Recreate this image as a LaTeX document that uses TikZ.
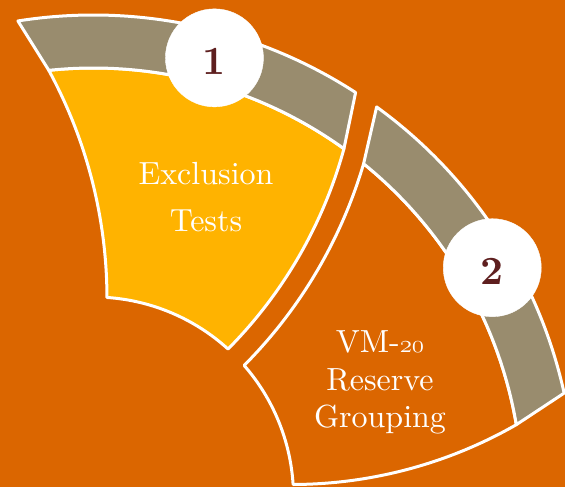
\documentclass[tikz,border=0pt]{standalone}
\usepackage{fontspec}
\usetikzlibrary{calc}

\newfontfamily\labelfont{lmroman10-regular.otf}
\newfontfamily\numfont{lmroman10-bold.otf}
% old-style figures taken from the math italic font, a little larger to sit at x-height
\newcommand\oldfig[1]{{\usefont{OML}{cmm}{m}{it}\fontsize{36}{37.5}\selectfont#1}}

\definecolor{bgorange}{HTML}{DB6600}
\definecolor{ringgray}{HTML}{998C6E}
\definecolor{stepgold}{HTML}{FFB300}
\definecolor{numred}{HTML}{5E1F1F}

\tikzset{
  outline/.style={draw=white, line width=3pt, line join=round},
  ringband/.style={outline, fill=ringgray},
  goldbody/.style={outline, fill=stepgold},
  plainbody/.style={outline, fill=bgorange},
  numdisc/.style={circle, fill=white, draw=white, minimum size=98pt, inner sep=0pt,
    text=numred, font=\numfont\fontsize{40}{42}\selectfont,
    text height=33.8pt, text depth=0pt},
  steptext/.style={text=white, align=center, inner sep=0pt}
}

% One segment of the cycle, centred on the origin.
% #1 rotation in degrees, #2 body style, #3 radius (in hundreds of pt) of the trailing edge circle.
% Leading edge: circle of radius 478 about (156.9+#1 : 505); trailing edge: circle about (111.9+#1 : 505).
\newcommand\cyclesegment[3]{%
  \pgfmathsetmacro\segAL{156.9+#1}%
  \pgfmathsetmacro\segAR{111.9+#1}%
  \pgfmathsetmacro\segRho{#3*100}%
  \pgfmathsetmacro\segLo{\segAL-acos((4.82*4.82+5.05*5.05-4.78*4.78)/(2*4.82*5.05))}%
  \pgfmathsetmacro\segLb{\segAL-acos((4.29*4.29+5.05*5.05-4.78*4.78)/(2*4.29*5.05))}%
  \pgfmathsetmacro\segLi{\segAL-acos((2.00*2.00+5.05*5.05-4.78*4.78)/(2*2.00*5.05))}%
  \pgfmathsetmacro\segRo{\segAR-acos((4.82*4.82+5.05*5.05-#3*#3)/(2*4.82*5.05))}%
  \pgfmathsetmacro\segRb{\segAR-acos((4.29*4.29+5.05*5.05-#3*#3)/(2*4.29*5.05))}%
  \pgfmathsetmacro\segRi{\segAR-acos((2.00*2.00+5.05*5.05-#3*#3)/(2*2.00*5.05))}%
  \coordinate (PL) at (\segAL:505);
  \coordinate (PR) at (\segAR:505);
  % body between the inner circle and the ring
  \draw[#2] let \p1=($(\segRb:429)-(PR)$), \p2=($(\segRi:200)-(PR)$),
                \p3=($(\segLi:200)-(PL)$), \p4=($(\segLb:429)-(PL)$),
                \n1={atan2(\y1,\x1)}, \n2={atan2(\y2,\x2)},
                \n3={atan2(\y3,\x3)}, \n4={atan2(\y4,\x4)} in
    (\segLb:429) arc[start angle=\segLb, end angle=\segRb, radius=429]
    arc[start angle=\n1, end angle=\n2, radius=\segRho]
    arc[start angle=\segRi, end angle=\segLi, radius=200]
    arc[start angle=\n3, end angle=\n4, radius=478] -- cycle;
  % outer ring band
  \draw[ringband] (\segLo:482) arc[start angle=\segLo, end angle=\segRo, radius=482]
    -- (\segRb:429) arc[start angle=\segRb, end angle=\segLb, radius=429] -- cycle;
}

\begin{document}
\begin{tikzpicture}[x=1pt, y=1pt]
  \fill[bgorange] (-93.5,10) rectangle (471.5,497);
  \useasboundingbox (-93.5,10) rectangle (471.5,497);
  \clip (-93.5,10) rectangle (471.5,497);

  \cyclesegment{0}{goldbody}{4.55}
  \cyclesegment{-45}{plainbody}{4.52}

  \node[numdisc] (d1) at (74.6:455.5) {1};
  \node[numdisc] (d2) at (29.9:460) {2};

  \node[steptext, font=\labelfont\fontsize{32}{47}\selectfont] (s1) at (112.5,299.5) {Exclusion\\Tests};
  \node[steptext, font=\labelfont\fontsize{32}{37.5}\selectfont] (s2) at (286.5,114.5)
    {VM-\oldfig{20}\\Reserve\\Grouping};
\end{tikzpicture}
\end{document}
